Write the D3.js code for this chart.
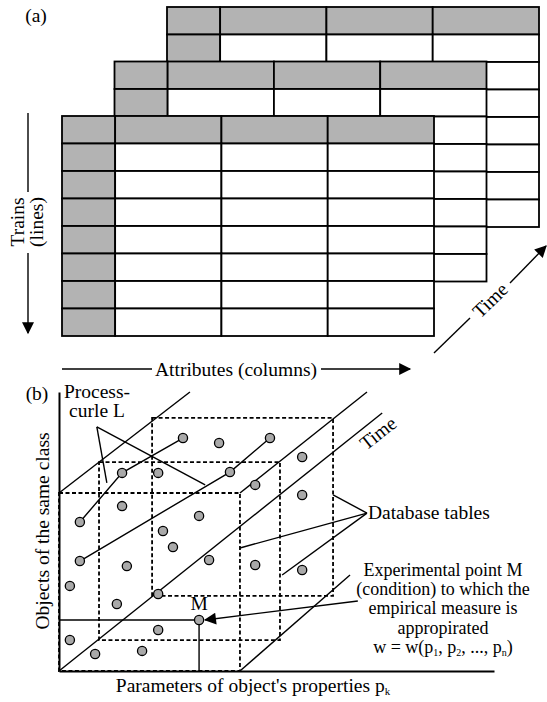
<!DOCTYPE html>
<html>
<head>
<meta charset="utf-8">
<title>Database tables over time</title>
<script src="https://cdn.jsdelivr.net/npm/d3@7"></script>
<style>
    body { margin: 0; background: #fff; }
    text { font-family: "Liberation Serif", "Times New Roman", serif; font-size: 19.5px; fill: #000; }
</style>
</head>
<body>
<svg width="547" height="702" id="mainsvg"></svg>
<script>
    // ---- (a) three tables stacked in time ----
    const layers = [2, 1, 0];                       // back -> front
    const columns = ["key", "attr1", "attr2", "attr3"];
    const columnUnits = [1, 2, 2, 2];
    const rows = ["head", "r1", "r2", "r3", "r4", "r5", "r6", "r7"];

    // ---- (b) parameter space ----
    const points = [
        [28.5, 83.5], [36.8, 81.7], [48.5, 83.5], [55.9, 76.7],
        [14.5, 71.0], [22.8, 71.0], [39.3, 71.3], [45.1, 66.7],
        [55.9, 63.1], [14.5, 59.1], [32.2, 55.6], [4.8, 53.4],
        [23.9, 50.2], [26.2, 44.4], [34.5, 39.8], [4.8, 39.4],
        [15.6, 37.6], [45.1, 38.0], [55.9, 36.2], [2.5, 30.5],
        [22.8, 27.6], [13.3, 24.0], [22.8, 14.7], [2.5, 11.1],
        [19.1, 7.2], [8.3, 6.1]
    ];
    const pointM = [32.2, 18.3];
    const processCurves = [
        [[4.8, 53.4], [14.5, 71.0], [28.5, 83.5]],
        [[4.8, 39.4], [39.3, 71.3], [48.5, 83.5]]
    ];
    const boxSize = [41.6, 63.8];
    const boxShifts = [[0, 0], [9.2, 11.1], [21.4, 26.9]];
    const timeLines = [
        [[0, 63.8], [30.1, 100]],
        [[0, 0], [74.3, 92.5]],
        [[41.6, 63.8], [70.8, 100]],
        [[41.6, 0], [66.9, 34.4]]
    ];
    const processCallout = { apex: [8.7, 87.5], targets: [[11.0, 67.4], [33.6, 66.7]] };
    const tablesCallout = { apex: [70.8, 56.6], targets: [[63.0, 63.1], [41.6, 44.1], [51.3, 34.4]] };
    const mArrowFrom = [68.7, 25.1];
    const experimentLines = ["Experimental point M", "(condition) to which the", "empirical measure is", "appropirated"];

    let mainsvg = d3.select('#mainsvg');
    let defs = mainsvg.append('defs');
    defs.append('marker')
        .attr('id', 'head')
        .attr('viewBox', '0 0 10 10')
        .attr('refX', 9).attr('refY', 5)
        .attr('markerWidth', 15).attr('markerHeight', 12)
        .attr('markerUnits', 'userSpaceOnUse')
        .attr('orient', 'auto')
        .append('path').attr('d', 'M0,0L10,5L0,10Z').attr('fill', '#000');

    // ===== part (a) =====
    let layerX = d3.scaleLinear().domain([0, 2]).range([62, 167]);
    let layerY = d3.scaleLinear().domain([0, 2]).range([116, 7]);
    let colX = d3.scaleLinear().domain([0, d3.sum(columnUnits)]).range([0, 372]);
    let rowY = d3.scaleBand().domain(rows).range([0, 220]);
    let colStart = d3.cumsum([0].concat(columnUnits));

    let tableGroup = mainsvg.append('g');
    layers.forEach(function(l){
        let g = tableGroup.append('g')
            .attr('transform', 'translate(' + layerX(l) + ',' + layerY(l) + ')');
        rows.forEach(function(r, ri){
            g.selectAll(null)
                .data(columns)
                .join('rect')
                .attr('x', (c, ci) => colX(colStart[ci]))
                .attr('y', rowY(r))
                .attr('width', (c, ci) => colX(columnUnits[ci]))
                .attr('height', rowY.bandwidth())
                .style('fill', (c, ci) => (ri === 0 || ci === 0) ? '#b3b3b3' : '#fff')
                .style('stroke', '#000')
                .style('stroke-width', 1.8);
        });
    });

    let annot = mainsvg.append('g').style('stroke', '#000').style('stroke-width', 1.4);

    mainsvg.append('text').attr('x', 36).attr('y', 22).attr('text-anchor', 'middle').text('(a)');

    // Trains (lines) arrow
    annot.append('line').attr('x1', 28).attr('y1', 113).attr('x2', 28).attr('y2', 192);
    annot.append('line').attr('x1', 28).attr('y1', 253).attr('x2', 28).attr('y2', 333)
        .attr('marker-end', 'url(#head)');
    mainsvg.append('text').attr('transform', 'translate(24,222) rotate(-90)')
        .attr('text-anchor', 'middle').text('Trains');
    mainsvg.append('text').attr('transform', 'translate(43,222) rotate(-90)')
        .attr('text-anchor', 'middle').text('(lines)');

    // Attributes (columns) arrow
    annot.append('line').attr('x1', 62).attr('y1', 369).attr('x2', 152).attr('y2', 369);
    annot.append('line').attr('x1', 321).attr('y1', 369).attr('x2', 410).attr('y2', 369)
        .attr('marker-end', 'url(#head)');
    mainsvg.append('text').attr('x', 236).attr('y', 376).attr('text-anchor', 'middle')
        .text('Attributes (columns)');

    // Time arrow
    annot.append('line').attr('x1', 434).attr('y1', 353).attr('x2', 470).attr('y2', 318);
    annot.append('line').attr('x1', 510).attr('y1', 283).attr('x2', 546).attr('y2', 246)
        .attr('marker-end', 'url(#head)');
    mainsvg.append('text').attr('transform', 'translate(490,300) rotate(-44)')
        .attr('text-anchor', 'middle').attr('dy', '0.35em').text('Time');

    // ===== part (b) =====
    let x = d3.scaleLinear().domain([0, 100]).range([59, 494]);
    let y = d3.scaleLinear().domain([0, 100]).range([671, 392]);
    let line = d3.line().x(d => x(d[0])).y(d => y(d[1]));

    mainsvg.append('text').attr('x', 37).attr('y', 400).attr('text-anchor', 'middle').text('(b)');

    let xAxis = mainsvg.append('g').attr('transform', 'translate(0,' + y(0) + ')')
        .call(d3.axisBottom(x).ticks(0).tickSizeOuter(0));
    let yAxis = mainsvg.append('g').attr('transform', 'translate(' + x(0) + ',0)')
        .call(d3.axisLeft(y).ticks(0).tickSizeOuter(0));
    mainsvg.selectAll('.domain').style('stroke', '#000').style('stroke-width', 2);

    // dashed database tables
    let boxes = mainsvg.append('g');
    boxes.selectAll('rect')
        .data(boxShifts)
        .join('rect')
        .attr('x', d => x(d[0]))
        .attr('y', d => y(d[1] + boxSize[1]))
        .attr('width', d => x(d[0] + boxSize[0]) - x(d[0]))
        .attr('height', d => y(d[1]) - y(d[1] + boxSize[1]))
        .style('fill', 'none')
        .style('stroke', '#000')
        .style('stroke-width', 1.8)
        .style('stroke-dasharray', '4,2.5');

    let lines = mainsvg.append('g').style('stroke', '#000').style('stroke-width', 1.4).style('fill', 'none');
    lines.selectAll('.time')
        .data(timeLines)
        .join('path')
        .attr('class', 'time')
        .attr('d', line);
    lines.selectAll('.curve')
        .data(processCurves)
        .join('path')
        .attr('class', 'curve')
        .attr('d', line);
    processCallout.targets.forEach(function(t){
        lines.append('path').attr('d', line([processCallout.apex, t]));
    });
    tablesCallout.targets.forEach(function(t){
        lines.append('path').attr('d', line([tablesCallout.apex, t]));
    });
    // projections of M
    lines.append('path').attr('d', line([[0, pointM[1]], pointM]));
    lines.append('path').attr('d', line([pointM, [pointM[0], 0]]));
    lines.append('path').attr('d', line([mArrowFrom, [pointM[0] + 1.4, pointM[1]]]))
        .attr('marker-end', 'url(#head)');

    mainsvg.append('g').selectAll('circle')
        .data(points.concat([pointM]))
        .join('circle')
        .attr('cx', d => x(d[0]))
        .attr('cy', d => y(d[1]))
        .attr('r', 4.6)
        .style('fill', '#a9a9a9')
        .style('stroke', '#000')
        .style('stroke-width', 1.3);

    // labels
    mainsvg.append('text').attr('x', 97).attr('y', 398).attr('text-anchor', 'middle').text('Process-');
    mainsvg.append('text').attr('x', 97).attr('y', 417).attr('text-anchor', 'middle').text('curle L');
    mainsvg.append('text').attr('x', x(pointM[0])).attr('y', 610).attr('text-anchor', 'middle').text('M');
    mainsvg.append('text').attr('x', x(tablesCallout.apex[0]) + 1).attr('y', 519).text('Database tables');
    mainsvg.append('text').attr('transform', 'translate(378,433) rotate(-38)')
        .attr('text-anchor', 'middle').attr('dy', '0.35em').text('Time');

    // experimental point text block (tight leading as in the original)
    mainsvg.selectAll('.exp')
        .data(experimentLines)
        .join('text')
        .attr('class', 'exp')
        .attr('x', 443)
        .attr('y', (d, i) => 576 + i * 19.2)
        .attr('text-anchor', 'middle')
        .style('font-size', '18px')
        .text(d => d);
    let formula = mainsvg.append('text').attr('x', 443).attr('y', 576 + 4 * 19.2)
        .attr('text-anchor', 'middle').style('font-size', '18px');
    formula.append('tspan').text('w = w(p');
    formula.append('tspan').attr('dy', 3).style('font-size', '10px').text('1');
    formula.append('tspan').attr('dy', -3).text(', p');
    formula.append('tspan').attr('dy', 3).style('font-size', '10px').text('2');
    formula.append('tspan').attr('dy', -3).text(', ..., p');
    formula.append('tspan').attr('dy', 3).style('font-size', '10px').text('n');
    formula.append('tspan').attr('dy', -3).text(')');

    let xl = mainsvg.append('text').attr('x', 253).attr('y', 692).attr('text-anchor', 'middle');
    xl.append('tspan').text("Parameters of object's properties p");
    xl.append('tspan').attr('dy', 3).style('font-size', '11px').text('k');

    mainsvg.append('text').attr('transform', 'translate(49,531) rotate(-90)')
        .attr('text-anchor', 'middle').text('Objects of the same class');
</script>
</body>
</html>
